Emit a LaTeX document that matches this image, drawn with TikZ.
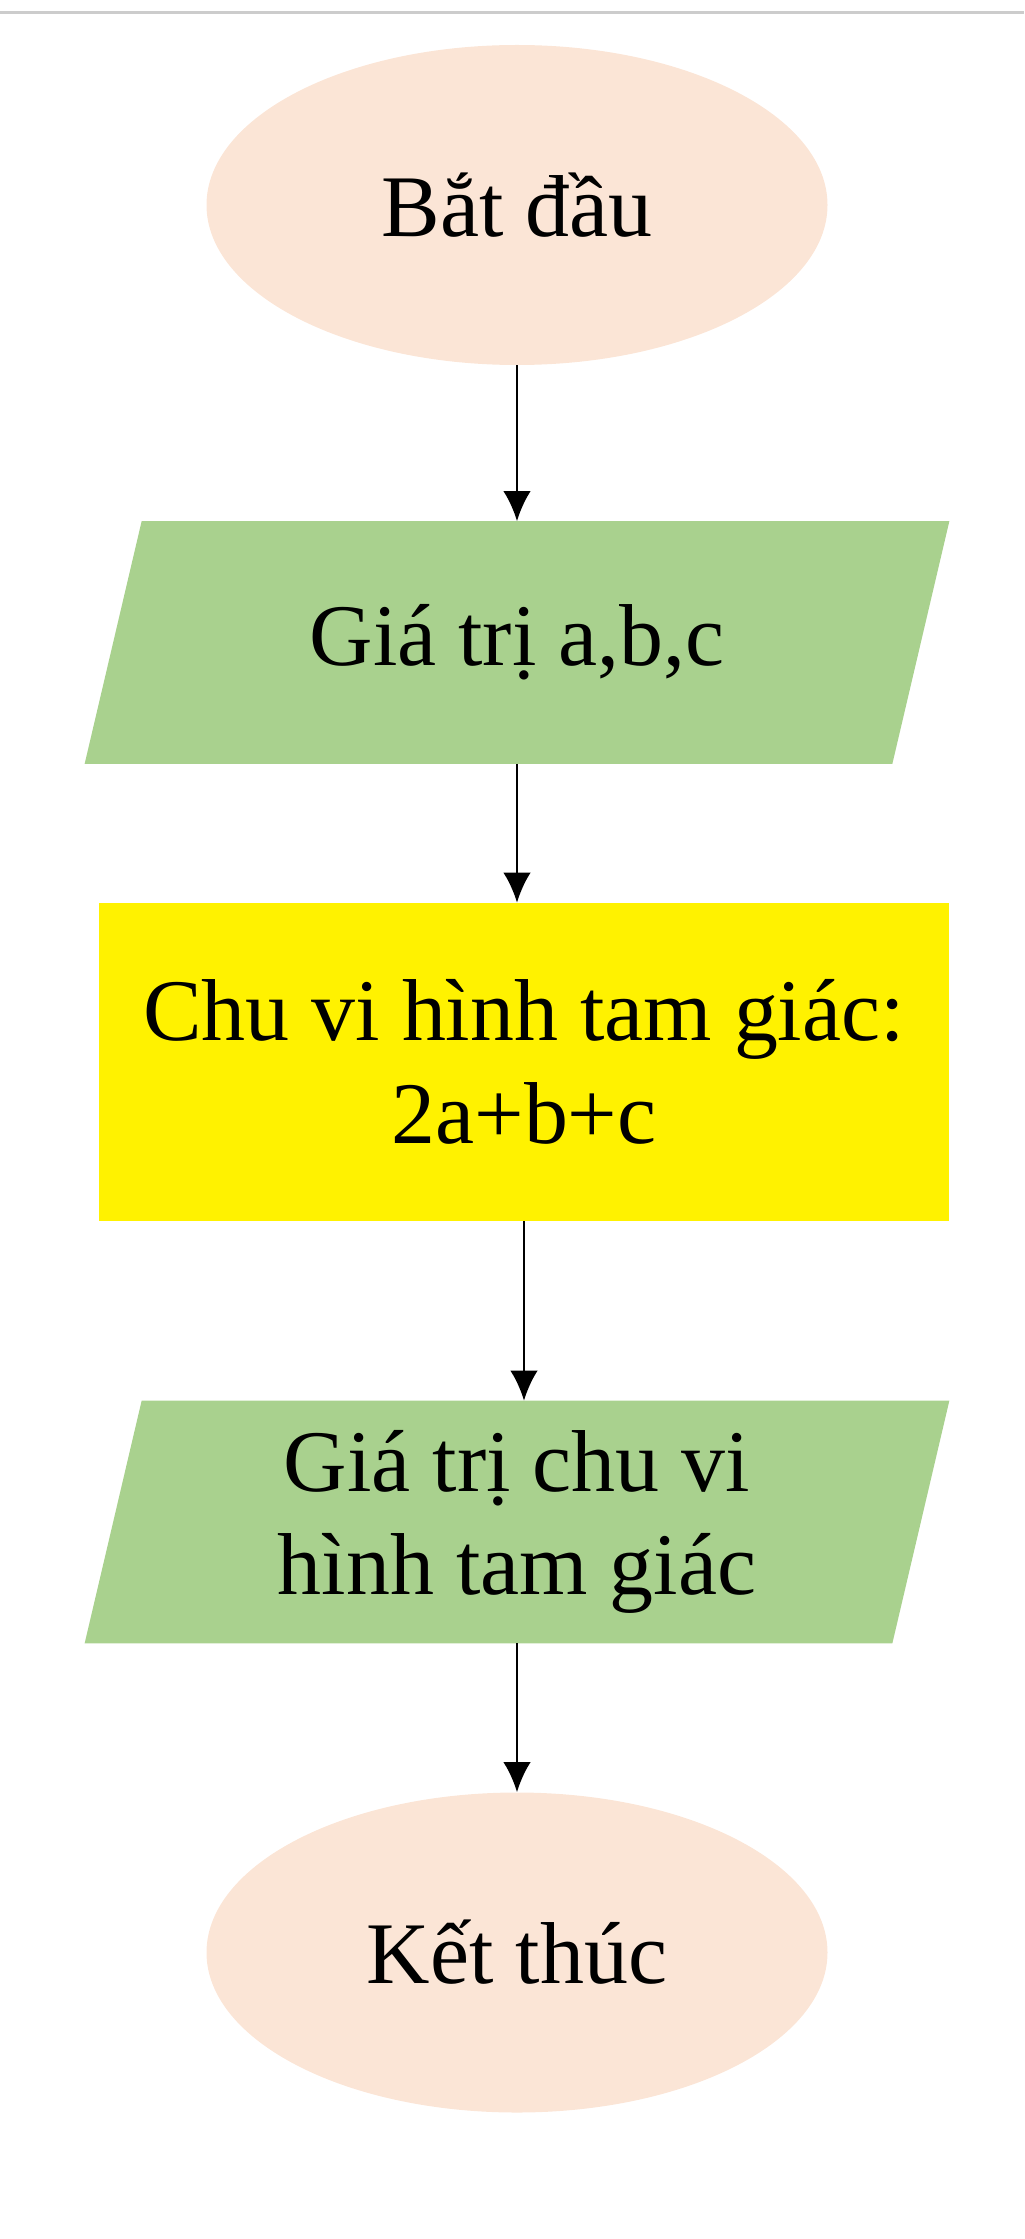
\documentclass[tikz,border=0pt]{standalone}
\usepackage{fontspec}
\setmainfont{Liberation Serif}
\usetikzlibrary{positioning,shapes.geometric,arrows.meta,backgrounds}
\tikzset{>={Latex[length=0.6cm,width=0.55cm]}}
\definecolor{peach}{HTML}{FBE5D6}
\definecolor{leaf}{HTML}{A9D18E}
\tikzset{
  flowtext/.style={font=\fontsize{50}{58.6}\selectfont, align=center, inner sep=0pt},
  terminal/.style={flowtext, ellipse, fill=peach, minimum width=12.42cm, minimum height=6.4cm},
  inout/.style={flowtext, rectangle, minimum width=16.14cm, minimum height=4.84cm},
  process/.style={flowtext, rectangle, fill=yellow, minimum width=17cm, minimum height=6.36cm}
}

\begin{document}
\begin{tikzpicture}
      \useasboundingbox (0,0) rectangle (20.48,-44.78);
      \draw[gray!40, line width=0.06cm] (0,-0.26) -- (20.48,-0.26);
      \node[terminal] (n0) at (10.34,-4.1) {Bắt đầu};
      \node[inout, below of=n0, node distance=8.75cm] (n1) {Giá trị a,b,c};
      \node[process, below of=n1, node distance=8.39cm, xshift=0.14cm] (n2) {Chu vi hình tam giác:\\2a+b+c};
      \node[inout, below of=n2, node distance=9.2cm, xshift=-0.14cm] (n3) {Giá trị chu vi\\hình tam giác};
      \node[terminal, below of=n3, node distance=8.61cm] (n4) {Kết thúc};
      % slanted input/output boxes
      \begin{scope}[on background layer]
        \foreach \n in {n1,n3}
          \fill[leaf] ([xshift=0.57cm]\n.north west) -- ([xshift=0.57cm]\n.north east) -- ([xshift=-0.57cm]\n.south east) -- ([xshift=-0.57cm]\n.south west) -- cycle;
      \end{scope}
      \draw[->, line width=0.05cm] (n0) to (n1);
      \draw[->, line width=0.05cm] (n1) to (n1 |- n2.north);
      \draw[->, line width=0.05cm] (n2) to (n2 |- n3.north);
      \draw[->, line width=0.05cm] (n3) to (n4);
    \end{tikzpicture}
\end{document}
